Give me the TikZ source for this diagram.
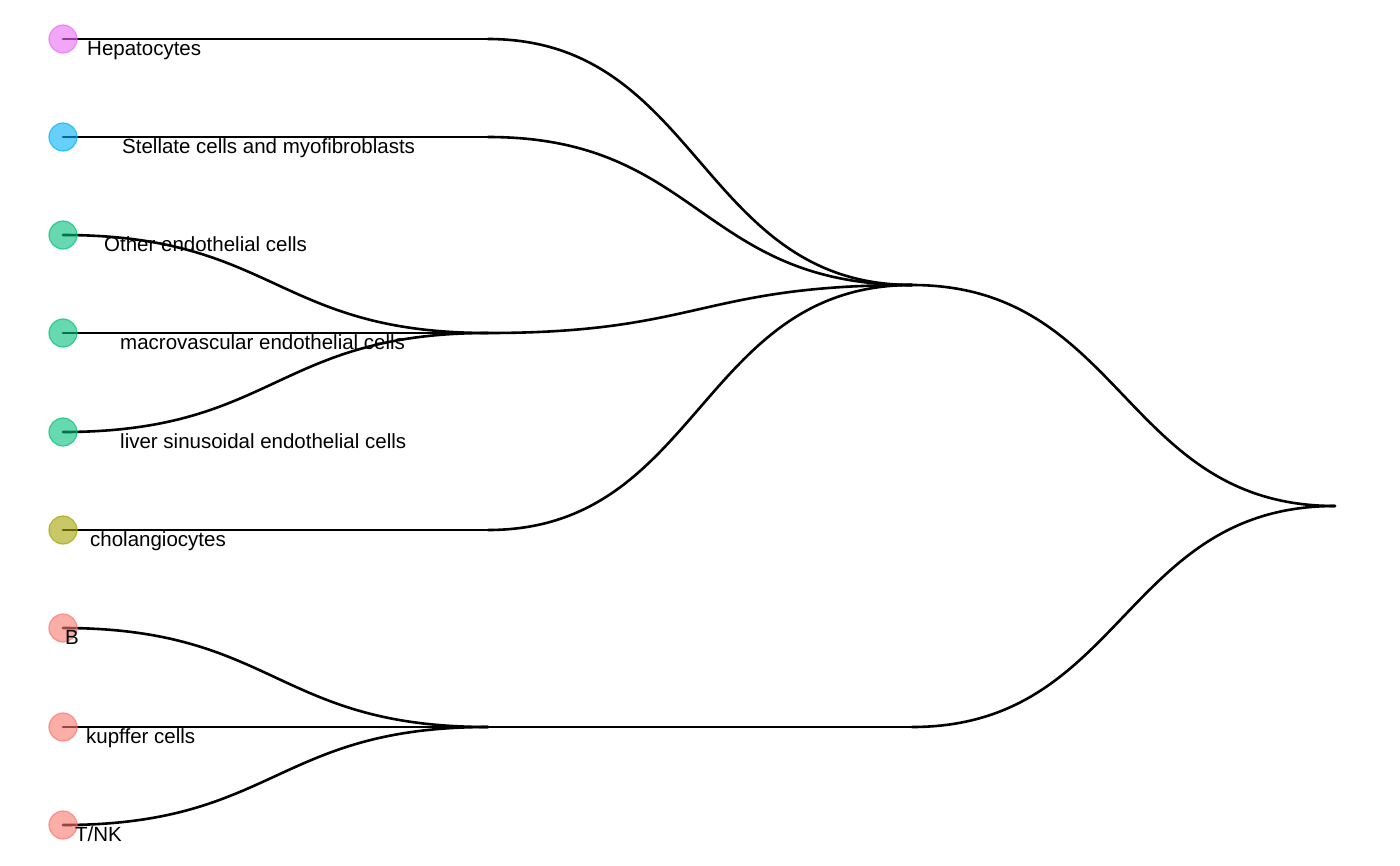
\documentclass[tikz,border=0pt]{standalone}
\usepackage{fontspec}
\setmainfont{Liberation Sans}
\usetikzlibrary{calc}
\definecolor{hepcol}{HTML}{E76BF3}
\definecolor{stelcol}{HTML}{00B0F6}
\definecolor{endocol}{HTML}{00BF7D}
\definecolor{cholcol}{HTML}{A3A500}
\definecolor{immcol}{HTML}{F8766D}
\tikzset{
  edge/.style={line width=2.6pt, black, line cap=round},
  leaf/.style={circle, minimum size=28pt, inner sep=0pt, fill=#1, fill opacity=0.6, draw=#1, draw opacity=0.7, line width=1.2pt},
  lab/.style={anchor=base west, inner sep=0pt, font=\fontsize{20.5pt}{24pt}\selectfont}
}
\newcommand{\branch}[2]{%
  \draw[edge] let \p1=(#1), \p2=(#2) in
    (#1) .. controls ({(\x1+\x2)/2},\y1) and ({(\x1+\x2)/2},\y2) .. (#2);}
\begin{document}
\begin{tikzpicture}[x=1pt, y=-1pt]
\useasboundingbox (0,0) rectangle (1400,865);
% leaves
\coordinate (hep) at (63,39);
\coordinate (stel) at (63,137);
\coordinate (oendo) at (63,235);
\coordinate (macro) at (63,333);
\coordinate (lsec) at (63,432);
\coordinate (chol) at (63,530);
\coordinate (bcell) at (63,628);
\coordinate (kupf) at (63,727);
\coordinate (tnk) at (63,825);
% inner nodes
\coordinate (hep1) at (488,39);
\coordinate (stel1) at (488,137);
\coordinate (endo) at (488,333);
\coordinate (chol1) at (488,530);
\coordinate (imm) at (488,727);
\coordinate (top) at (912,285);
\coordinate (imm1) at (912,727);
\coordinate (root) at (1335,506);
% edges
\branch{hep}{hep1}
\branch{hep1}{top}
\branch{stel}{stel1}
\branch{stel1}{top}
\branch{oendo}{endo}
\branch{macro}{endo}
\branch{lsec}{endo}
\branch{endo}{top}
\branch{chol}{chol1}
\branch{chol1}{top}
\branch{bcell}{imm}
\branch{kupf}{imm}
\branch{tnk}{imm}
\branch{imm}{imm1}
\branch{top}{root}
\branch{imm1}{root}
% leaf points
\node[leaf=hepcol] (hepdot) at (hep) {};
\node[leaf=stelcol] (steldot) at (stel) {};
\node[leaf=endocol] (oendodot) at (oendo) {};
\node[leaf=endocol] (macrodot) at (macro) {};
\node[leaf=endocol] (lsecdot) at (lsec) {};
\node[leaf=cholcol] (choldot) at (chol) {};
\node[leaf=immcol] (bdot) at (bcell) {};
\node[leaf=immcol] (kupfdot) at (kupf) {};
\node[leaf=immcol] (tnkdot) at (tnk) {};
% labels
\node[lab] (heplab) at (87,55) {Hepatocytes};
\node[lab] (stellab) at (122,153) {Stellate cells and myofibroblasts};
\node[lab] (oendolab) at (104,251) {Other endothelial cells};
\node[lab] (macrolab) at (120,349) {macrovascular endothelial cells};
\node[lab] (lseclab) at (120,448) {liver sinusoidal endothelial cells};
\node[lab] (chollab) at (90,546) {cholangiocytes};
\node[lab] (blab) at (65,644) {B};
\node[lab] (kupflab) at (86,743) {kupffer cells};
\node[lab] (tnklab) at (75,841) {T/NK};
\end{tikzpicture}
\end{document}
